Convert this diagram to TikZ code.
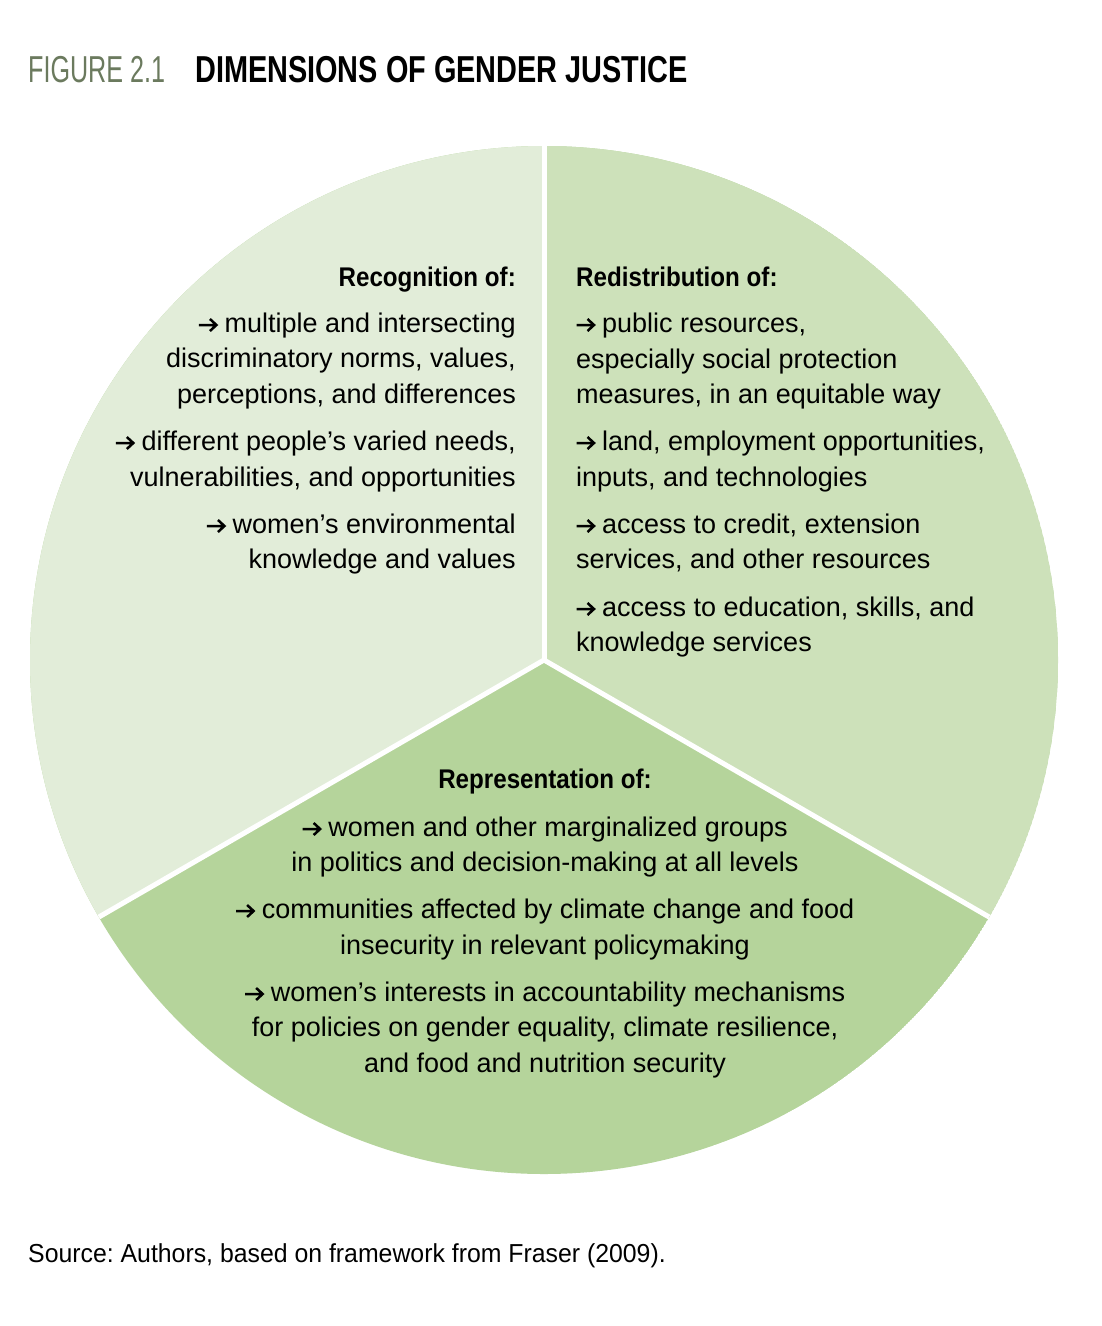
\documentclass[tikz,border=0pt]{standalone}
\usepackage{fontspec}
\setmainfont{Liberation Sans}
\newfontfamily\hdfont[FakeStretch=0.895]{Liberation Sans}
\newfontfamily\titlefont[FakeStretch=0.77]{Liberation Sans}
\newfontfamily\figfont[FakeStretch=0.67]{Liberation Sans}
\newfontfamily\srcfont[FakeStretch=0.955]{Liberation Sans}
\definecolor{recog}{HTML}{E2EDD9}
\definecolor{redis}{HTML}{CDE1BA}
\definecolor{repr}{HTML}{B5D49B}
\definecolor{figgray}{HTML}{6B7A5E}
\newcommand\garrow{\hspace*{26pt}}
\frenchspacing
\begin{document}
\begin{tikzpicture}[x=1pt,y=-1pt,
  body/.style={font=\fontsize{27}{32}\selectfont, inner sep=0pt, text=black},
  head/.style={font=\hdfont\bfseries\fontsize{27}{32}\selectfont, inner sep=0pt, text=black},
  divider/.style={white, line width=5pt},
  bul/.style={draw=black, line width=2.5pt, line join=miter, line cap=butt}]
\useasboundingbox (0,0) rectangle (1102,1326);
\fill[white] (0,0) rectangle (1102,1326);
\coordinate (C) at (544,660);
\coordinate (T) at (544,146);
\coordinate (L) at (98.9,917);
\coordinate (R) at (989.1,917);
\begin{scope}
  \clip (C) circle[radius=514pt];
  \fill[repr] (C) circle[radius=514pt];
  \fill[recog] (C) -- (-168.2,1071.2) -- (-168.2,100) -- (544,100) -- cycle;
  \fill[redis] (C) -- (544,100) -- (1256.2,100) -- (1256.2,1071.2) -- cycle;
\end{scope}
\draw[divider] (C) -- (T);
\draw[divider] (C) -- (L);
\draw[divider] (C) -- (R);

% title
\node[inner sep=0pt, anchor=base west, text=figgray, font=\figfont\fontsize{37.5}{40}\selectfont] (t1) at (28,82) {FIGURE 2.1};
\node[inner sep=0pt, anchor=base west, text=black, font=\titlefont\bfseries\fontsize{37.5}{40}\selectfont] (t2) at (195,82) {DIMENSIONS OF GENDER JUSTICE};

% recognition
\node[head, anchor=base east] (g1) at (516,286) {Recognition of:};
\node[body, anchor=base east] (g2) at (516,332) {\garrow multiple and intersecting};
\node[body, anchor=base east] (g3) at (516,367.5) {discriminatory norms, values,};
\node[body, anchor=base east] (g4) at (516,403) {perceptions, and differences};
\node[body, anchor=base east] (g5) at (516,450) {\garrow different people’s varied needs,};
\node[body, anchor=base east] (g6) at (516,486) {vulnerabilities, and opportunities};
\node[body, anchor=base east] (g7) at (516,533) {\garrow women’s environmental};
\node[body, anchor=base east] (g8) at (516,568) {knowledge and values};

% redistribution
\node[head, anchor=base west] (d1) at (576,286) {Redistribution of:};
\node[body, anchor=base west] (d2) at (576,332) {\garrow public resources,};
\node[body, anchor=base west] (d3) at (576,368) {especially social protection};
\node[body, anchor=base west] (d4) at (576,403) {measures, in an equitable way};
\node[body, anchor=base west] (d5) at (576,450) {\garrow land, employment opportunities,};
\node[body, anchor=base west] (d6) at (576,486) {inputs, and technologies};
\node[body, anchor=base west] (d7) at (576,533) {\garrow access to credit, extension};
\node[body, anchor=base west] (d8) at (576,568) {services, and other resources};
\node[body, anchor=base west] (d9) at (576,616) {\garrow access to education, skills, and};
\node[body, anchor=base west] (d10) at (576,651) {knowledge services};

% representation
\node[head, anchor=base] (p1) at (545,788) {Representation of:};
\node[body, anchor=base] (p2) at (545,836) {\garrow women and other marginalized groups};
\node[body, anchor=base] (p3) at (545,871) {in politics and decision-making at all levels};
\node[body, anchor=base] (p4) at (545,918) {\garrow communities affected by climate change and food};
\node[body, anchor=base] (p5) at (545,954) {insecurity in relevant policymaking};
\node[body, anchor=base] (p6) at (545,1001) {\garrow women’s interests in accountability mechanisms};
\node[body, anchor=base] (p7) at (545,1036) {for policies on gender equality, climate resilience,};
\node[body, anchor=base] (p8) at (545,1072) {and food and nutrition security};

% bullet arrows (stem plus open chevron head)
\foreach \n in {g2,g5,g7,d2,d5,d7,d9,p2,p4,p6}
  \draw[bul] ([shift={(0.5pt,7pt)}]\n.base west) -- ++(17.5,0) ++(-6.5,-6) -- ++(6.5,6) -- ++(-6.5,6);

% source
\node[inner sep=0pt, anchor=base west, text=black, font=\srcfont\fontsize{26}{30}\selectfont] (s1) at (28,1262) {Source: Authors, based on framework from Fraser (2009).};
\end{tikzpicture}
\end{document}
